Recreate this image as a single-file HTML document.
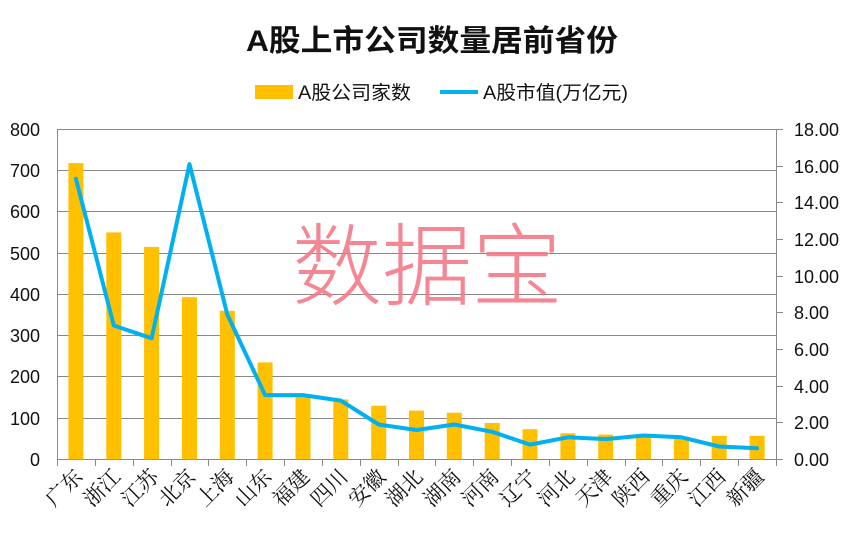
<!DOCTYPE html>
<html><head><meta charset="utf-8"><style>
html,body{margin:0;padding:0;background:#fff;}
svg{display:block;}
</style></head><body>
<svg width="860" height="538" viewBox="0 0 860 538" xmlns="http://www.w3.org/2000/svg">
<rect width="860" height="538" fill="#fff"/>
<text x="432" y="51" text-anchor="middle" font-family="Liberation Sans, 'Noto Sans CJK SC', sans-serif" font-size="30" font-weight="bold" fill="#111" textLength="372" lengthAdjust="spacingAndGlyphs">A股上市公司数量居前省份</text>
<rect x="255" y="85" width="38" height="14" fill="#FFC000"/>
<text x="298" y="99" font-family="Liberation Sans, 'Noto Sans CJK SC', sans-serif" font-size="19" fill="#111" textLength="113" lengthAdjust="spacingAndGlyphs">A股公司家数</text>
<line x1="440" y1="92" x2="478" y2="92" stroke="#00B0F0" stroke-width="4"/>
<text x="483" y="99" font-family="Liberation Sans, 'Noto Sans CJK SC', sans-serif" font-size="19" fill="#111" textLength="145" lengthAdjust="spacingAndGlyphs">A股市值(万亿元)</text>
<g stroke="#888" stroke-width="1">
<line x1="57" y1="129.5" x2="777" y2="129.5"/>
<line x1="57" y1="170.5" x2="777" y2="170.5"/>
<line x1="57" y1="211.5" x2="777" y2="211.5"/>
<line x1="57" y1="253.5" x2="777" y2="253.5"/>
<line x1="57" y1="294.5" x2="777" y2="294.5"/>
<line x1="57" y1="335.5" x2="777" y2="335.5"/>
<line x1="57" y1="376.5" x2="777" y2="376.5"/>
<line x1="57" y1="418.5" x2="777" y2="418.5"/>
<line x1="57" y1="459.5" x2="777" y2="459.5"/>
<line x1="57.5" y1="129" x2="57.5" y2="466"/>
<line x1="776.5" y1="129" x2="776.5" y2="466"/>
<path d="M95.5 459v7M133.5 459v7M171.5 459v7M208.5 459v7M246.5 459v7M284.5 459v7M322.5 459v7M360.5 459v7M398.5 459v7M435.5 459v7M473.5 459v7M511.5 459v7M549.5 459v7M587.5 459v7M625.5 459v7M662.5 459v7M700.5 459v7M738.5 459v7"/>
<path d="M777 459.5h6M777 422.5h6M777 386.5h6M777 349.5h6M777 312.5h6M777 276.5h6M777 239.5h6M777 202.5h6M777 166.5h6M777 129.5h6"/>
</g>
<g font-family="Liberation Sans, sans-serif" font-size="18" fill="#111" text-anchor="end">
<text x="40" y="136">800</text><text x="40" y="177">700</text><text x="40" y="218">600</text><text x="40" y="260">500</text><text x="40" y="301">400</text><text x="40" y="342">300</text><text x="40" y="383">200</text><text x="40" y="425">100</text><text x="40" y="466">0</text>
</g>
<g font-family="Liberation Sans, sans-serif" font-size="18" fill="#111">
<text x="794" y="136">18.00</text><text x="794" y="173">16.00</text><text x="794" y="209">14.00</text><text x="794" y="246">12.00</text><text x="794" y="283">10.00</text><text x="794" y="319">8.00</text><text x="794" y="356">6.00</text><text x="794" y="393">4.00</text><text x="794" y="429">2.00</text><text x="794" y="466">0.00</text>
</g>
<g fill="#FFC000">
<rect x="68.4" y="163.1" width="15" height="296.2"/>
<rect x="106.3" y="232.4" width="15" height="226.9"/>
<rect x="144.1" y="246.9" width="15" height="212.4"/>
<rect x="182" y="297.2" width="15" height="162.1"/>
<rect x="219.8" y="310.8" width="15" height="148.5"/>
<rect x="257.6" y="362.4" width="15" height="96.9"/>
<rect x="295.5" y="395.4" width="15" height="63.9"/>
<rect x="333.3" y="399.5" width="15" height="59.8"/>
<rect x="371.2" y="405.7" width="15" height="53.6"/>
<rect x="409" y="410.6" width="15" height="48.7"/>
<rect x="446.8" y="412.7" width="15" height="46.6"/>
<rect x="484.7" y="423" width="15" height="36.3"/>
<rect x="522.5" y="429.2" width="15" height="30.1"/>
<rect x="560.4" y="433.3" width="15" height="26"/>
<rect x="598.2" y="434.6" width="15" height="24.7"/>
<rect x="636" y="435.4" width="15" height="23.9"/>
<rect x="673.9" y="436.6" width="15" height="22.7"/>
<rect x="711.7" y="435.8" width="15" height="23.5"/>
<rect x="749.6" y="435.8" width="15" height="23.5"/>
</g>
<text x="427" y="298" text-anchor="middle" font-family="'Noto Sans CJK SC', sans-serif" font-weight="300" font-size="90" fill="#F47A8A" fill-opacity="0.9">数据宝</text>
<polyline fill="none" stroke="#00B0F0" stroke-width="4" stroke-linejoin="round" stroke-linecap="round" points="75.9,178.8 113.8,325.5 151.6,338.3 189.5,164.1 227.3,314.5 265.1,395.1 303,395.1 340.8,400.6 378.7,424.5 416.5,430 454.3,424.5 492.2,431.8 530,444.6 567.9,437.3 605.7,439.1 643.6,435.5 681.4,437.3 719.2,446.5 757.1,448.3"/>
<g font-family="'Noto Serif CJK SC', serif" font-size="21" fill="#111" text-anchor="end">
<text transform="translate(84,478) rotate(-45)">广东</text>
<text transform="translate(122,478) rotate(-45)">浙江</text>
<text transform="translate(160,478) rotate(-45)">江苏</text>
<text transform="translate(197,478) rotate(-45)">北京</text>
<text transform="translate(235,478) rotate(-45)">上海</text>
<text transform="translate(273,478) rotate(-45)">山东</text>
<text transform="translate(311,478) rotate(-45)">福建</text>
<text transform="translate(349,478) rotate(-45)">四川</text>
<text transform="translate(387,478) rotate(-45)">安徽</text>
<text transform="translate(424,478) rotate(-45)">湖北</text>
<text transform="translate(462,478) rotate(-45)">湖南</text>
<text transform="translate(500,478) rotate(-45)">河南</text>
<text transform="translate(538,478) rotate(-45)">辽宁</text>
<text transform="translate(576,478) rotate(-45)">河北</text>
<text transform="translate(614,478) rotate(-45)">天津</text>
<text transform="translate(651,478) rotate(-45)">陕西</text>
<text transform="translate(689,478) rotate(-45)">重庆</text>
<text transform="translate(727,478) rotate(-45)">江西</text>
<text transform="translate(765,478) rotate(-45)">新疆</text>
</g>
</svg>
</body></html>
